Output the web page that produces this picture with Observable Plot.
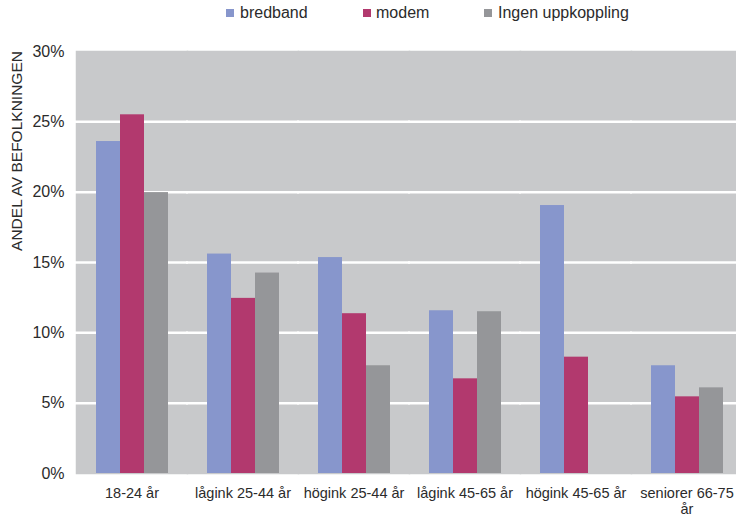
<!DOCTYPE html>
<html>
<head>
<meta charset="utf-8">
<script src="https://cdn.jsdelivr.net/npm/d3@7"></script>
<script src="https://cdn.jsdelivr.net/npm/@observablehq/plot@0.6"></script>
<style>
  html, body { margin: 0; padding: 0; background: #fff; }
  body { font-family: "Liberation Sans", Arial, sans-serif; color: #2b2b2b; }
  #wrap { position: relative; width: 736px; height: 517px; overflow: hidden; }
  #legend { position: relative; height: 26px; width: 736px; }
  .sw { position: absolute; top: 9px; width: 8px; height: 8px; }
  .lt { position: absolute; top: 5px; font-size: 16px; line-height: 16px; color: #2b2b2b; white-space: nowrap; }
  #ytitle { position: absolute; left: 17px; top: 151px; transform: translate(-50%, -50%) rotate(-90deg);
            font-size: 15.5px; white-space: nowrap; color: #2b2b2b; }
</style>
</head>
<body>
<div id="wrap">
  <div id="legend"></div>
  <div id="chart"></div>
  <div id="ytitle">ANDEL AV BEFOLKNINGEN</div>
</div>
<script>
const categories = ["18-24 år", "lågink 25-44 år", "högink 25-44 år", "lågink 45-65 år", "högink 45-65 år", "seniorer 66-75 år"];
const series = ["bredband", "modem", "Ingen uppkoppling"];
const colors = ["#8796cc", "#b2396e", "#959699"];
const bredband = [23.6, 15.6, 15.35, 11.57, 19.05, 7.66];
const modem = [25.5, 12.45, 11.36, 6.73, 8.27, 5.45];
const ingen = [19.97, 14.25, 7.66, 11.5, null, 6.09];
const yTicks = [0, 5, 10, 15, 20, 25, 30];
const legendSwatchX = [226, 363, 484];
const legendTextX = [240, 376, 498];

const valuesBySeries = [bredband, modem, ingen];
const data = [];
categories.forEach((c, i) => {
  series.forEach((s, j) => {
    const v = valuesBySeries[j][i];
    if (v != null) data.push({cat: c, series: s, value: v});
  });
});

const legend = document.getElementById("legend");
series.forEach((s, j) => {
  const sw = document.createElement("div");
  sw.className = "sw";
  sw.style.left = legendSwatchX[j] + "px";
  sw.style.background = colors[j];
  legend.appendChild(sw);
  const t = document.createElement("div");
  t.className = "lt";
  t.style.left = legendTextX[j] + "px";
  t.textContent = s;
  legend.appendChild(t);
});

const chart = Plot.plot({
  width: 736,
  height: 491,
  marginTop: 25,
  marginBottom: 44,
  marginLeft: 75,
  marginRight: -7,
  style: {fontFamily: '"Liberation Sans", Arial, sans-serif', fontSize: "16px", color: "#2b2b2b", background: "transparent", overflow: "hidden"},
  fx: {domain: categories, padding: 0, label: null},
  x: {domain: series, axis: null, paddingInner: 0, paddingOuter: 0.726},
  y: {domain: [0, 30], label: null},
  color: {domain: series, range: colors},
  marks: [
    Plot.frame({fill: "#c8c9cb", stroke: "#c8c9cb", strokeWidth: 1.5}),
    Plot.ruleY(yTicks.filter(d => d > 0 && d < 30), {stroke: "#ffffff", strokeWidth: 2.5, insetLeft: -1, insetRight: -1}),
    Plot.barY(data, {fx: "cat", x: "series", y: "value", fill: "series", inset: 0}),
    Plot.axisY({ticks: yTicks, tickFormat: d => d + "%", tickSize: 0, tickPadding: 12, fontSize: 16, label: null}),
    Plot.axisFx({anchor: "bottom", tickSize: 0, tickPadding: 13, fontSize: 14.5, label: null, lineHeight: 1.1,
      tickFormat: d => d === "seniorer 66-75 år" ? "seniorer 66-75\når" : d})
  ]
});
document.getElementById("chart").appendChild(chart);
</script>
</body>
</html>
